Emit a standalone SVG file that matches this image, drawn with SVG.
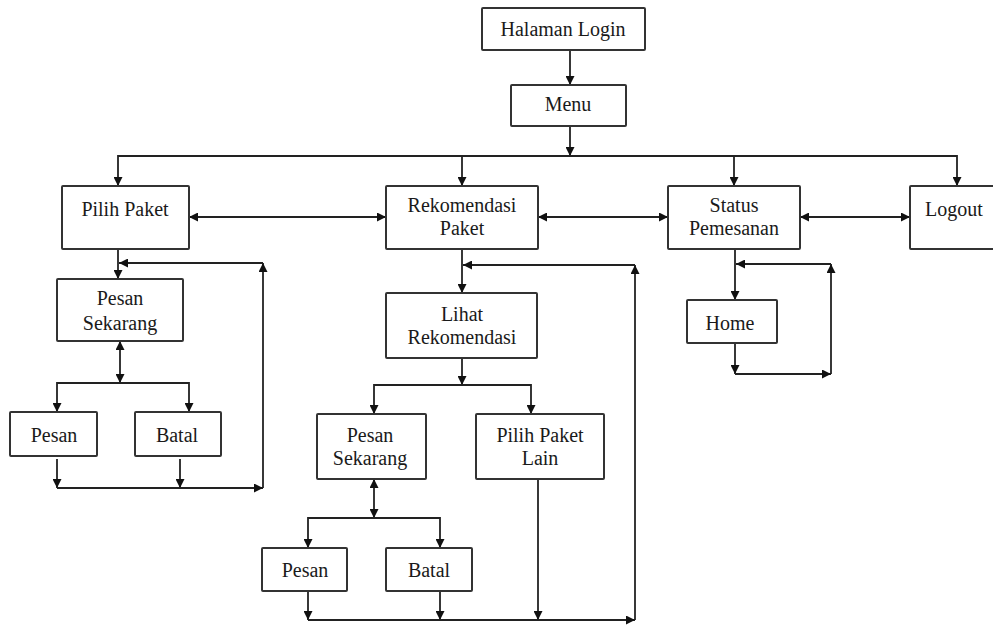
<svg xmlns="http://www.w3.org/2000/svg" width="993" height="627" viewBox="0 0 993 627">
<style>
.box{fill:#fff;stroke:#333;stroke-width:2}
.t{font-size:20px;fill:#1a1a1a;text-anchor:middle}
.c path{fill:none;stroke:#222;stroke-width:1.8}
.e{marker-end:url(#arr)}
.b{marker-start:url(#arr);marker-end:url(#arr)}
</style>
<defs>
<marker id="arr" viewBox="0 0 10 10" refX="10" refY="5" markerWidth="9" markerHeight="9" markerUnits="userSpaceOnUse" orient="auto-start-reverse">
<path d="M0,0 L10,5 L0,10 z" fill="#111"/>
</marker>
</defs>
<rect width="993" height="627" fill="#fff"/>
<g class="c" id="connectors">
<path class="e" d="M570,50 V85"/>
<path class="e" d="M570,126 V156"/>
<path class="b" d="M118,186 V156 H957 V186"/>
<path class="e" d="M462,156 V186"/>
<path class="e" d="M734,156 V186"/>
<path class="b" d="M189,217 H386"/>
<path class="b" d="M538,217 H668"/>
<path class="b" d="M800,217 H910"/>
<path class="e" d="M118,249 V279"/>
<path class="e" d="M263,488 V263"/>
<path class="e" d="M263,263 H119"/>
<path class="b" d="M120,341 V383"/>
<path class="b" d="M57,412 V383 H189 V412"/>
<path class="e" d="M57,459 V488"/>
<path class="e" d="M180,459 V488"/>
<path class="e" d="M57,488 H263"/>
<path class="e" d="M462,249 V293"/>
<path class="e" d="M635,620 V265"/>
<path class="e" d="M635,265 H463"/>
<path class="e" d="M462,358 V385"/>
<path class="b" d="M374,414 V385 H531 V414"/>
<path class="b" d="M374,479 V518"/>
<path class="b" d="M308,548 V518 H440 V548"/>
<path class="e" d="M308,591 V620"/>
<path class="e" d="M440,591 V620"/>
<path class="e" d="M538,479 V620"/>
<path class="e" d="M308,620 H635"/>
<path class="e" d="M735,249 V300"/>
<path class="e" d="M831,374 V264"/>
<path class="e" d="M831,264 H736"/>
<path class="e" d="M735,343 V374"/>
<path class="e" d="M735,374 H831"/>
</g>
<g font-family="Liberation Serif">
<g id="login"><rect class="box" x="482" y="8" width="163" height="42" rx="1"/><text class="t" x="563" y="36">Halaman Login</text></g>
<g id="menu"><rect class="box" x="511" y="85" width="115" height="41" rx="1"/><text class="t" x="568" y="111">Menu</text></g>
<g id="pilih-paket"><rect class="box" x="62" y="186" width="127" height="63" rx="1"/><text class="t" x="125" y="216">Pilih Paket</text></g>
<g id="rekomendasi-paket"><rect class="box" x="386" y="186" width="152" height="63" rx="1"/><text class="t" x="462" y="212">Rekomendasi</text><text class="t" x="462" y="235">Paket</text></g>
<g id="status-pemesanan"><rect class="box" x="668" y="186" width="132" height="63" rx="1"/><text class="t" x="734" y="212">Status</text><text class="t" x="734" y="235">Pemesanan</text></g>
<g id="logout"><rect class="box" x="910" y="186" width="95" height="63" rx="1"/><text class="t" x="925" y="216" text-anchor="start" style="text-anchor:start">Logout</text></g>
<g id="pesan-sekarang-1"><rect class="box" x="57" y="279" width="126" height="62" rx="1"/><text class="t" x="120" y="305">Pesan</text><text class="t" x="120" y="330">Sekarang</text></g>
<g id="pesan-1"><rect class="box" x="10" y="412" width="87" height="44" rx="1"/><text class="t" x="54" y="442">Pesan</text></g>
<g id="batal-1"><rect class="box" x="135" y="412" width="86" height="44" rx="1"/><text class="t" x="177" y="442">Batal</text></g>
<g id="lihat-rekomendasi"><rect class="box" x="386" y="293" width="151" height="65" rx="1"/><text class="t" x="462" y="321">Lihat</text><text class="t" x="462" y="344">Rekomendasi</text></g>
<g id="pesan-sekarang-2"><rect class="box" x="317" y="414" width="109" height="65" rx="1"/><text class="t" x="370" y="442">Pesan</text><text class="t" x="370" y="465">Sekarang</text></g>
<g id="pilih-paket-lain"><rect class="box" x="476" y="414" width="128" height="65" rx="1"/><text class="t" x="540" y="442">Pilih Paket</text><text class="t" x="540" y="465">Lain</text></g>
<g id="pesan-2"><rect class="box" x="262" y="548" width="85" height="43" rx="1"/><text class="t" x="305" y="577">Pesan</text></g>
<g id="batal-2"><rect class="box" x="386" y="548" width="86" height="43" rx="1"/><text class="t" x="429" y="577">Batal</text></g>
<g id="home"><rect class="box" x="687" y="300" width="90" height="43" rx="1"/><text class="t" x="730" y="330">Home</text></g>
</g>
</svg>
